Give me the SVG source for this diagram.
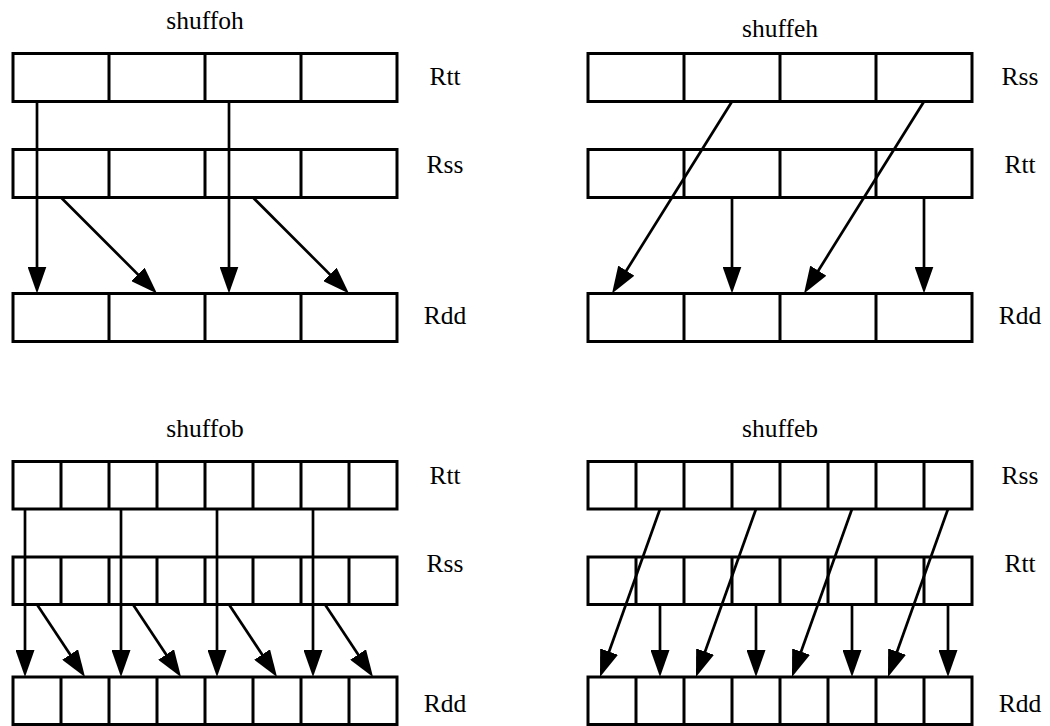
<svg xmlns="http://www.w3.org/2000/svg" width="1050" height="726" viewBox="0 0 1050 726">
<style>
.box{fill:#fff;stroke:#000;stroke-width:3;stroke-linejoin:miter}
.div{stroke:#000;stroke-width:3}
.arr{stroke:#000;stroke-width:2.7;fill:none;marker-end:url(#ah)}
.t{font-family:"Liberation Serif","Times New Roman",serif;font-size:25.5px;fill:#000;text-anchor:middle}
</style>
<defs>
<marker id="ah" viewBox="0 0 27 19" refX="19" refY="9.5" markerWidth="27" markerHeight="19" markerUnits="userSpaceOnUse" orient="auto">
<path d="M0,0 L27,9.5 L0,19 Z" fill="#000"/>
</marker>
</defs>
<rect width="1050" height="726" fill="#fff"/>

<!-- top-left: shuffoh -->
<g id="shuffoh-title"><text class="t" x="205" y="29">shuffoh</text></g>
<g id="tl-rtt">
<rect class="box" x="13" y="53.5" width="384" height="48"/>
<path class="div" d="M109,53.5V101.5M205,53.5V101.5M301,53.5V101.5"/>
<text class="t" x="445" y="85">Rtt</text>
</g>
<g id="tl-rss">
<rect class="box" x="13" y="149.5" width="384" height="48"/>
<path class="div" d="M109,149.5V197.5M205,149.5V197.5M301,149.5V197.5"/>
<text class="t" x="445" y="173">Rss</text>
</g>
<g id="tl-rdd">
<rect class="box" x="13" y="293.5" width="384" height="48"/>
<path class="div" d="M109,293.5V341.5M205,293.5V341.5M301,293.5V341.5"/>
<text class="t" x="445" y="324">Rdd</text>
</g>

<!-- top-right: shuffeh -->
<g id="shuffeh-title"><text class="t" x="780" y="37">shuffeh</text></g>
<g id="tr-rss">
<rect class="box" x="588" y="53.5" width="384" height="48"/>
<path class="div" d="M684,53.5V101.5M780,53.5V101.5M876,53.5V101.5"/>
<text class="t" x="1020" y="85">Rss</text>
</g>
<g id="tr-rtt">
<rect class="box" x="588" y="149.5" width="384" height="48"/>
<path class="div" d="M684,149.5V197.5M780,149.5V197.5M876,149.5V197.5"/>
<text class="t" x="1020" y="173">Rtt</text>
</g>
<g id="tr-rdd">
<rect class="box" x="588" y="293.5" width="384" height="48"/>
<path class="div" d="M684,293.5V341.5M780,293.5V341.5M876,293.5V341.5"/>
<text class="t" x="1020" y="324">Rdd</text>
</g>

<!-- bottom-left: shuffob -->
<g id="shuffob-title"><text class="t" x="205" y="437">shuffob</text></g>
<g id="bl-rtt">
<rect class="box" x="13" y="461.5" width="384" height="47.5"/>
<path class="div" d="M61,461.5V509M109,461.5V509M157,461.5V509M205,461.5V509M253,461.5V509M301,461.5V509M349,461.5V509"/>
<text class="t" x="445" y="484">Rtt</text>
</g>
<g id="bl-rss">
<rect class="box" x="13" y="557" width="384" height="47.5"/>
<path class="div" d="M61,557V604.5M109,557V604.5M157,557V604.5M205,557V604.5M253,557V604.5M301,557V604.5M349,557V604.5"/>
<text class="t" x="445" y="572">Rss</text>
</g>
<g id="bl-rdd">
<rect class="box" x="13" y="677" width="384" height="47.5"/>
<path class="div" d="M61,677V724.5M109,677V724.5M157,677V724.5M205,677V724.5M253,677V724.5M301,677V724.5M349,677V724.5"/>
<text class="t" x="445" y="712">Rdd</text>
</g>

<!-- bottom-right: shuffeb -->
<g id="shuffeb-title"><text class="t" x="780" y="437">shuffeb</text></g>
<g id="br-rss">
<rect class="box" x="588" y="461.5" width="384" height="47.5"/>
<path class="div" d="M636,461.5V509M684,461.5V509M732,461.5V509M780,461.5V509M828,461.5V509M876,461.5V509M924,461.5V509"/>
<text class="t" x="1020" y="484">Rss</text>
</g>
<g id="br-rtt">
<rect class="box" x="588" y="557" width="384" height="47.5"/>
<path class="div" d="M636,557V604.5M684,557V604.5M732,557V604.5M780,557V604.5M828,557V604.5M876,557V604.5M924,557V604.5"/>
<text class="t" x="1020" y="572">Rtt</text>
</g>
<g id="br-rdd">
<rect class="box" x="588" y="677" width="384" height="47.5"/>
<path class="div" d="M636,677V724.5M684,677V724.5M732,677V724.5M780,677V724.5M828,677V724.5M876,677V724.5M924,677V724.5"/>
<text class="t" x="1020" y="712">Rdd</text>
</g>

<g id="connectors">
<!-- shuffoh -->
<line class="arr" x1="37" y1="101.5" x2="37" y2="285.5"/>
<line class="arr" x1="229" y1="101.5" x2="229" y2="285.5"/>
<line class="arr" x1="61" y1="197.5" x2="151.34" y2="287.84"/>
<line class="arr" x1="253" y1="197.5" x2="343.34" y2="287.84"/>
<!-- shuffeh -->
<line class="arr" x1="732" y1="101.5" x2="616.24" y2="286.72"/>
<line class="arr" x1="924" y1="101.5" x2="808.24" y2="286.72"/>
<line class="arr" x1="732" y1="197.5" x2="732" y2="285.5"/>
<line class="arr" x1="924" y1="197.5" x2="924" y2="285.5"/>
<!-- shuffob -->
<line class="arr" x1="25" y1="509" x2="25" y2="669"/>
<line class="arr" x1="121" y1="509" x2="121" y2="669"/>
<line class="arr" x1="217" y1="509" x2="217" y2="669"/>
<line class="arr" x1="313" y1="509" x2="313" y2="669"/>
<line class="arr" x1="37" y1="604.5" x2="80.58" y2="670.33"/>
<line class="arr" x1="133" y1="604.5" x2="176.58" y2="670.33"/>
<line class="arr" x1="229" y1="604.5" x2="272.58" y2="670.33"/>
<line class="arr" x1="325" y1="604.5" x2="368.58" y2="670.33"/>
<!-- shuffeb -->
<line class="arr" x1="660" y1="509" x2="602.69" y2="669.47"/>
<line class="arr" x1="756" y1="509" x2="698.69" y2="669.47"/>
<line class="arr" x1="852" y1="509" x2="794.69" y2="669.47"/>
<line class="arr" x1="948" y1="509" x2="890.69" y2="669.47"/>
<line class="arr" x1="660" y1="604.5" x2="660" y2="669"/>
<line class="arr" x1="756" y1="604.5" x2="756" y2="669"/>
<line class="arr" x1="852" y1="604.5" x2="852" y2="669"/>
<line class="arr" x1="948" y1="604.5" x2="948" y2="669"/>
</g>
</svg>
